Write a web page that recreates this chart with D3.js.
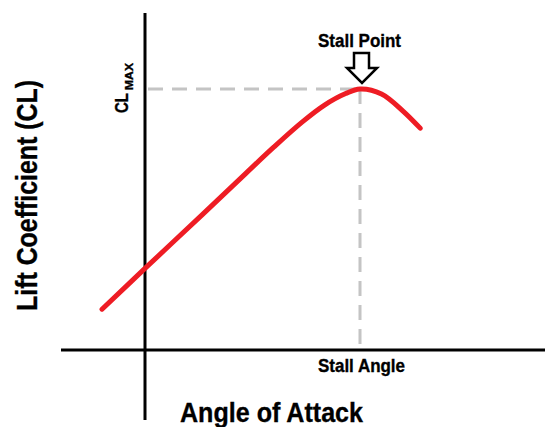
<!DOCTYPE html>
<html>
<head>
<meta charset="utf-8">
<script src="https://cdn.jsdelivr.net/npm/d3@7"></script>
<style>
  html, body { margin: 0; padding: 0; background: #fff; }
  svg { display: block; }
  text { font-family: "Liberation Sans", Arial, sans-serif; font-weight: bold; fill: #000; stroke: #000; stroke-width: 0.35; }
</style>
</head>
<body>
<svg id="chart" width="545" height="427"></svg>
<script>
// Lift curve: angle of attack (deg) vs lift coefficient
const alpha = [-3, 0, 4, 7, 9, 11, 12.5, 14, 15, 16.5, 18, 19.2];
const cl    = [0.25, 0.50, 0.83, 1.08, 1.245, 1.40, 1.50, 1.572, 1.60, 1.57, 1.465, 1.36];

const stallAngle = 15;
const clMax = 1.60;

const labels = {
  stallPoint: "Stall Point",
  stallAngle: "Stall Angle",
  xTitle: "Angle of Attack",
  yTitle: "Lift Coefficient (CL)",
  clMain: "CL",
  clSub: "MAX"
};

const svg = d3.select("#chart");

const x = d3.scaleLinear().domain([0, 15]).range([145, 360]);
const y = d3.scaleLinear().domain([0, 1.6]).range([350, 89]);

// axes through the origin
svg.append("line")
  .attr("x1", x(0)).attr("x2", x(0))
  .attr("y1", 13).attr("y2", 420)
  .attr("stroke", "#000").attr("stroke-width", 3);
svg.append("line")
  .attr("x1", 61).attr("x2", 545)
  .attr("y1", y(0)).attr("y2", y(0))
  .attr("stroke", "#000").attr("stroke-width", 3);

// dashed guides to the stall point
const dash = "15,9";
svg.append("line")
  .attr("x1", x(0) + 3).attr("x2", x(stallAngle))
  .attr("y1", y(clMax)).attr("y2", y(clMax))
  .attr("stroke", "#c4c4c4").attr("stroke-width", 3)
  .attr("stroke-dasharray", dash);
svg.append("line")
  .attr("x1", x(stallAngle)).attr("x2", x(stallAngle))
  .attr("y1", y(clMax)).attr("y2", y(0) - 3)
  .attr("stroke", "#c4c4c4").attr("stroke-width", 3)
  .attr("stroke-dasharray", dash);

// lift curve
const pts = alpha.map((a, i) => [a, cl[i]]);
const line = d3.line()
  .x(d => x(d[0]))
  .y(d => y(d[1]))
  .curve(d3.curveCatmullRom.alpha(0.5));
svg.append("path")
  .attr("d", line(pts))
  .attr("fill", "none")
  .attr("stroke", "#ee1c24")
  .attr("stroke-width", 5)
  .attr("stroke-linecap", "round")
  .attr("stroke-linejoin", "round");

// hollow arrow pointing down at the stall point
const px = x(stallAngle) + 2, py = y(clMax) - 6;
const arrow = [
  [px - 8, py - 30], [px + 7, py - 30], [px + 7, py - 15], [px + 15, py - 15],
  [px, py], [px - 15, py - 15], [px - 8, py - 15]
];
svg.append("polygon")
  .attr("points", arrow.map(p => p.join(",")).join(" "))
  .attr("fill", "#fff")
  .attr("stroke", "#000")
  .attr("stroke-width", 2.5)
  .attr("stroke-linejoin", "miter");

// annotations
svg.append("text")
  .attr("x", 318).attr("y", 47)
  .attr("font-size", 19)
  .attr("textLength", 83).attr("lengthAdjust", "spacingAndGlyphs")
  .text(labels.stallPoint);

svg.append("text")
  .attr("x", 318).attr("y", 372)
  .attr("font-size", 18.5)
  .attr("textLength", 87).attr("lengthAdjust", "spacingAndGlyphs")
  .text(labels.stallAngle);

svg.append("text")
  .attr("x", 180).attr("y", 422)
  .attr("font-size", 28)
  .attr("textLength", 183).attr("lengthAdjust", "spacingAndGlyphs")
  .text(labels.xTitle);

svg.append("text")
  .attr("transform", "translate(37,311) rotate(-90)")
  .attr("font-size", 29)
  .attr("textLength", 231).attr("lengthAdjust", "spacingAndGlyphs")
  .text(labels.yTitle);

// CL max label, rotated with subscript
svg.append("text")
  .attr("transform", "translate(128,113) rotate(-90)")
  .attr("font-size", 18)
  .attr("textLength", 20).attr("lengthAdjust", "spacingAndGlyphs")
  .text(labels.clMain);
svg.append("text")
  .attr("transform", "translate(133,90) rotate(-90)")
  .attr("font-size", 11.5)
  .attr("textLength", 27).attr("lengthAdjust", "spacingAndGlyphs")
  .text(labels.clSub);
</script>
</body>
</html>
